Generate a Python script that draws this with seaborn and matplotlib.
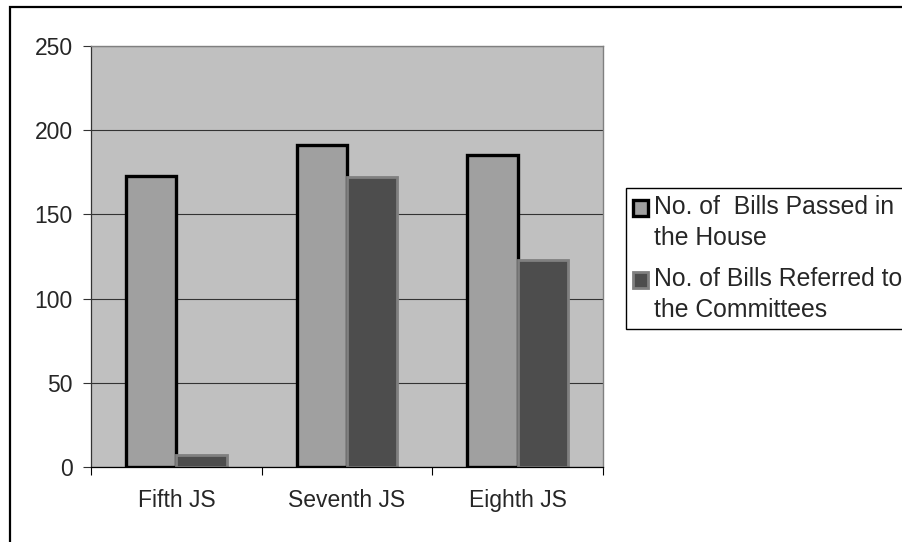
#!/usr/bin/env python3
"""
plot.py
Bills passed vs. referred to committees, per JS session.
"""

import matplotlib
matplotlib.use("Agg")
import matplotlib.pyplot as plt
from matplotlib.patches import Patch, Rectangle
import pandas as pd
import seaborn as sns

sessions = ["Fifth JS", "Seventh JS", "Eighth JS"]
passed = [173, 191, 185]
referred = [7, 172, 123]
series_names = ["No. of  Bills Passed in the House",
                "No. of Bills Referred to the Committees"]
legend_labels = ["No. of  Bills Passed in\nthe House",
                 "No. of Bills Referred to\nthe Committees"]
yticks = [0, 50, 100, 150, 200, 250]

fills = ["#a0a0a0", "#4d4d4d"]
edges = ["black", "#808080"]
edge_widths = [2.4, 2.0]

sns.set_style("white")
plt.rcParams["font.family"] = ["Liberation Sans", "DejaVu Sans"]

df = pd.DataFrame({
    "session": sessions * 2,
    "bills": passed + referred,
    "series": [series_names[0]] * 3 + [series_names[1]] * 3,
})

W, H = 902, 542
fig = plt.figure(figsize=(W / 100, H / 100), dpi=100)
ax = fig.add_axes([91 / W, 1 - 467 / H, (603 - 91) / W, (467 - 46) / H])
ax.set_facecolor("#c0c0c0")

sns.barplot(data=df, x="session", y="bills", hue="series", order=sessions,
            hue_order=series_names, palette=fills,
            width=0.59, gap=0, saturation=1, errorbar=None, ax=ax)

# bar outlines, as in the original spreadsheet chart
for cont, ec, lw in zip(ax.containers, edges, edge_widths):
    for bar in cont:
        bar.set_edgecolor(ec)
        bar.set_linewidth(lw)

ax.set_xlim(-0.5, 2.5)
ax.set_ylim(0, 250)
ax.set_yticks(yticks)
ax.set_xlabel("")
ax.set_ylabel("")
ax.set_axisbelow(True)
ax.yaxis.grid(True, color="#333333", linewidth=0.8)

ax.tick_params(axis="y", labelsize=16.5, length=6, width=0.8, pad=7,
               color="#333333", left=True)
ax.tick_params(axis="x", which="major", labelsize=16.5, length=0, pad=16)
ax.set_xticks([-0.5, 0.5, 1.5, 2.5], minor=True)
ax.tick_params(axis="x", which="minor", length=6, width=0.8, color="black",
               bottom=True)

for side in ["top", "right"]:
    ax.spines[side].set_color("#808080")
    ax.spines[side].set_linewidth(1.0)
ax.spines["left"].set_color("#333333")
ax.spines["bottom"].set_color("black")
ax.spines["left"].set_linewidth(0.9)
ax.spines["bottom"].set_linewidth(0.9)

if ax.get_legend() is not None:
    ax.get_legend().remove()
handles = [Patch(facecolor=f, edgecolor=e, linewidth=lw)
           for f, e, lw in zip(fills, edges, edge_widths)]
leg = fig.legend(handles, legend_labels, loc="upper left",
                 bbox_to_anchor=(626 / W, 1 - 188 / H), borderaxespad=0,
                 fontsize=17.8, frameon=True, fancybox=False, framealpha=1,
                 edgecolor="black", handlelength=0.6, handleheight=0.6,
                 handletextpad=0.25, labelspacing=0.7, borderpad=0.3)
leg.get_frame().set_linewidth(1.0)
for t in leg.get_texts():
    t.set_linespacing(1.35)
# keep the key squares level with the first line of each label
for h in leg.legend_handles:
    h.set_y(h.get_y() + 11)

# outer chart border (runs off the right and bottom edges)
fig.patches.append(Rectangle((10 / W, -0.1), 1.2, 1 - 7 / H + 0.1,
                             transform=fig.transFigure, fill=False,
                             edgecolor="black", linewidth=1.6))

fig.savefig("out.png", dpi=100)
